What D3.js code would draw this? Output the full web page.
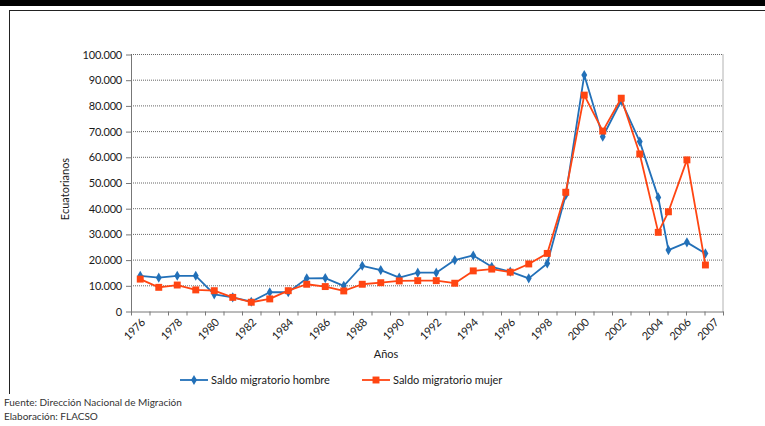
<!DOCTYPE html>
<html>
<head>
<meta charset="utf-8">
<script src="https://cdn.jsdelivr.net/npm/d3@7"></script>
<style>
  body { margin: 0; background: #fff; }
  svg { display: block; font-family: Lato, "Open Sans", sans-serif; }
</style>
</head>
<body>
<svg id="chart"></svg>
<script>
// data
const years = [1976, 1977, 1978, 1979, 1980, 1981, 1982, 1983, 1984, 1985,
               1986, 1987, 1988, 1989, 1990, 1991, 1992, 1993, 1994, 1995,
               1996, 1997, 1998, 1999, 2000, 2001, 2002, 2003, 2004, 2005,
               2006, 2007];
// where each year sits on the original axis (last three drawn half a step left)
const yearAt = [1976, 1977, 1978, 1979, 1980, 1981, 1982, 1983, 1984, 1985,
                1986, 1987, 1988, 1989, 1990, 1991, 1992, 1993, 1994, 1995,
                1996, 1997, 1998, 1999, 2000, 2001, 2002, 2003, 2004, 2004.55,
                2005.55, 2006.55];
const hombre = [13900, 13150, 13900, 13900, 6700, 5500, 3800, 7500, 7500, 12900,
                13000, 10000, 17800, 16100, 13200, 15100, 15100, 20000, 21800, 17400,
                15500, 12900, 18700, 45300, 92000, 68000, 82000, 66100, 44400, 23900,
                26900, 22600];
const mujer = [12600, 9400, 10300, 8400, 8100, 5500, 3600, 4900, 8100, 10600,
               9700, 8000, 10600, 11200, 11900, 12000, 12000, 11000, 15800, 16500,
               15300, 18500, 22600, 46400, 84200, 70200, 83000, 61300, 30800, 38800,
               59000, 18100];
const xLabels = ['1976', '1978', '1980', '1982', '1984', '1986', '1988', '1990', '1992',
                 '1994', '1996', '1998', '2000', '2002', '2004', '2006', '2007'];
const xLabelAt = [1976, 1978, 1980, 1982, 1984, 1986, 1988, 1990, 1992,
                  1994, 1996, 1998, 2000, 2002, 2004, 2005.5, 2007];
const yTicks = [0, 10000, 20000, 30000, 40000, 50000, 60000, 70000, 80000, 90000, 100000];
const seriesNames = ['Saldo migratorio hombre', 'Saldo migratorio mujer'];
const sources = ['Fuente: Dirección Nacional de Migración', 'Elaboración: FLACSO'];

const W = 765, H = 426;
const plot = { left: 131, right: 723, top: 54.5, bottom: 311.5 };
const blue = '#2270b8', red = '#ff4512';
const ink = '#1a1a1a';

const svg = d3.select('#chart').attr('width', W).attr('height', H);

// page frame
svg.append('rect').attr('x', 0).attr('y', 0).attr('width', W).attr('height', 6).attr('fill', '#000');
svg.append('line').attr('x1', 9).attr('x2', W).attr('y1', 10.5).attr('y2', 10.5)
  .attr('stroke', '#222').attr('stroke-width', 1);
svg.append('line').attr('x1', 9.5).attr('x2', 9.5).attr('y1', 10).attr('y2', 394)
  .attr('stroke', '#222').attr('stroke-width', 1);

const x = d3.scaleLinear().domain([1975.5, 2007.5]).range([plot.left, plot.right]);
const y = d3.scaleLinear().domain([0, 100000]).range([plot.bottom, plot.top]);

const locale = d3.formatLocale({ decimal: ',', thousands: '.', grouping: [3], currency: ['$', ''] });
const fmt = locale.format(',');

// gridlines
svg.append('g').selectAll('line')
  .data(yTicks.slice(1))
  .join('line')
  .attr('x1', plot.left).attr('x2', plot.right)
  .attr('y1', d => y(d)).attr('y2', d => y(d))
  .attr('stroke', '#666').attr('stroke-width', 1).attr('stroke-dasharray', '1,1');
svg.append('line')
  .attr('x1', plot.right).attr('x2', plot.right).attr('y1', plot.top).attr('y2', plot.bottom)
  .attr('stroke', '#666').attr('stroke-dasharray', '1,1');

// y axis
const yAxis = d3.axisLeft(y).tickValues(yTicks).tickFormat(fmt).tickSize(5).tickSizeOuter(0);
const gy = svg.append('g').attr('transform', `translate(${plot.left},0)`).call(yAxis);
gy.select('.domain').attr('stroke', '#777');
gy.selectAll('.tick line').attr('stroke', '#777');
gy.selectAll('.tick text').attr('font-size', 11).attr('fill', ink).attr('x', -9)
  .attr('font-family', 'Lato, sans-serif').attr('letter-spacing', '-0.2');

// x axis (ticks at category boundaries)
const bounds = d3.range(1975.5, 2008, 1);
const xAxis = d3.axisBottom(x).tickValues(bounds).tickFormat('').tickSize(4).tickSizeOuter(0);
const gx = svg.append('g').attr('transform', `translate(0,${plot.bottom})`).call(xAxis);
gx.select('.domain').attr('stroke', '#777');
gx.selectAll('.tick line').attr('stroke', '#777');

svg.append('g').selectAll('text')
  .data(xLabels)
  .join('text')
  .attr('transform', (d, i) => `translate(${x(xLabelAt[i]) + 3},${plot.bottom + 9}) rotate(-45)`)
  .attr('text-anchor', 'end')
  .attr('dy', '0.35em')
  .attr('font-size', 11)
  .attr('fill', ink)
  .attr('letter-spacing', '-0.2')
  .text(d => d);

// axis titles
svg.append('text')
  .attr('transform', `translate(69,${(plot.top + plot.bottom) / 2 + 6}) rotate(-90)`)
  .attr('text-anchor', 'middle')
  .attr('font-size', 11).attr('fill', ink)
  .text('Ecuatorianos');
svg.append('text')
  .attr('x', 386).attr('y', 358)
  .attr('text-anchor', 'middle')
  .attr('font-size', 11).attr('fill', ink)
  .text('Años');

// series
const series = [
  { name: seriesNames[0], values: hombre, color: blue, shape: d3.symbolDiamond, size: 30 },
  { name: seriesNames[1], values: mujer, color: red, shape: d3.symbolSquare, size: 48 }
];
const line = d3.line().x(d => x(d.at)).y(d => y(d.v));

series.forEach(s => {
  const pts = s.values.map((v, i) => ({ v, at: yearAt[i], year: years[i] }));
  svg.append('path')
    .datum(pts)
    .attr('d', line)
    .attr('fill', 'none')
    .attr('stroke', s.color)
    .attr('stroke-width', 1.8)
    .attr('stroke-linejoin', 'round');
  svg.append('g').selectAll('path')
    .data(pts)
    .join('path')
    .attr('transform', d => `translate(${x(d.at)},${y(d.v)})`)
    .attr('d', d3.symbol().type(s.shape).size(s.size))
    .attr('fill', s.color);
});

// legend
const legendItems = [
  { s: series[0], x0: 180 },
  { s: series[1], x0: 362 }
];
const lg = svg.append('g').attr('transform', 'translate(0,380)');
legendItems.forEach(({ s, x0 }) => {
  lg.append('line').attr('x1', x0).attr('x2', x0 + 28).attr('y1', 0).attr('y2', 0)
    .attr('stroke', s.color).attr('stroke-width', 1.8);
  lg.append('path').attr('transform', `translate(${x0 + 14},0)`)
    .attr('d', d3.symbol().type(s.shape).size(s.size)).attr('fill', s.color);
  lg.append('text').attr('x', x0 + 31).attr('y', 0).attr('dy', '0.35em')
    .attr('font-size', 11).attr('fill', ink)
    .text(s.name);
});

// source notes
svg.append('g').selectAll('text')
  .data(sources)
  .join('text')
  .attr('x', 4)
  .attr('y', (d, i) => 406 + i * 14)
  .attr('font-size', 10)
  .attr('fill', '#333')
  .text(d => d);
</script>
</body>
</html>
